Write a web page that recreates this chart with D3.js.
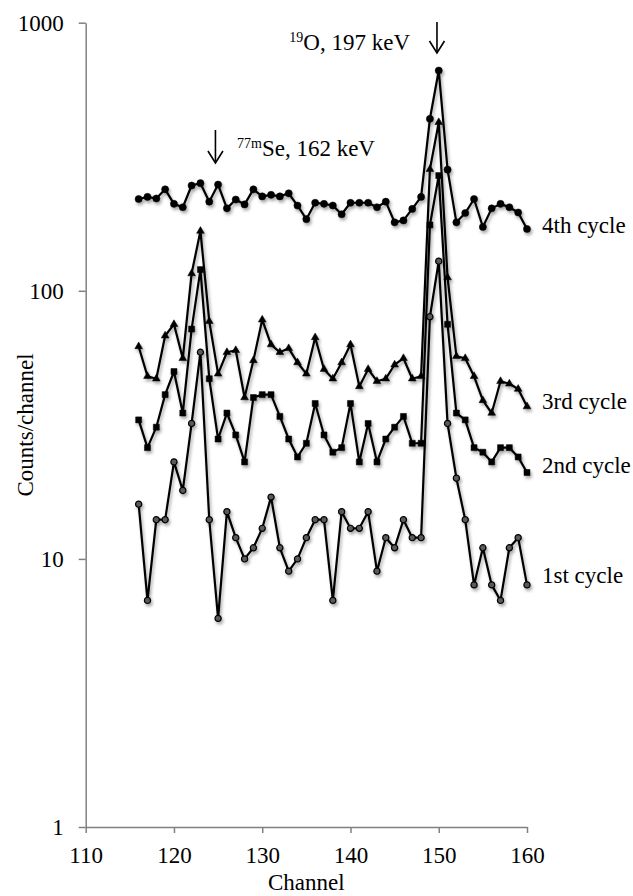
<!DOCTYPE html>
<html>
<head>
<meta charset="utf-8">
<script src="https://cdn.jsdelivr.net/npm/d3@7"></script>
<style>
  body { margin: 0; background: #fff; }
  svg { display: block; font-family: "Liberation Serif", "Times New Roman", serif; }
</style>
</head>
<body>
<svg></svg>
<script>
// gamma spectrum counts per channel, four counting cycles
const channels = d3.range(116, 161);

const cycle4 = [220, 224, 221, 239, 211, 205, 247, 252, 215, 249, 203, 219, 210, 239, 225,
  228, 225, 231, 208, 185, 213, 211, 208, 193, 213, 213, 213, 205, 215, 180,
  183, 202, 224, 438, 663, 283, 180, 195, 220, 173, 203, 211, 205, 196, 170];
const cycle3 = [62, 48, 47, 68, 75, 56, 116, 167, 77, 49, 59, 60, 40, 55, 78,
  63, 59, 61, 54, 49, 67, 51, 47, 54, 63, 44, 51, 46, 47, 53,
  56, 47, 48, 284, 425, 112, 57, 56, 48, 39, 35, 46, 45, 43, 37];
const cycle2 = [33, 26, 31, 41, 50, 35, 72, 120, 47, 28, 35, 29, 23, 40, 41,
  41, 34, 28, 24, 27, 38, 29, 25, 26, 38, 23, 32, 23, 28, 31,
  34, 27, 27, 176, 269, 75, 35, 33, 26, 25, 23, 26, 26, 24, 21];
const cycle1 = [16, 7, 14, 14, 23, 18, 32, 59, 14, 6, 15, 12, 10, 11, 13,
  17, 11, 9, 10, 12, 14, 14, 7, 15, 13, 13, 15, 9, 12, 11,
  14, 12, 12, 80, 129, 32, 20, 14, 8, 11, 8, 7, 11, 12, 8];

const seriesNames = ["4th cycle", "3rd cycle", "2nd cycle", "1st cycle"];
const xTicks = [110, 120, 130, 140, 150, 160];
const yTicks = [1, 10, 100, 1000];

const width = 633, height = 896;
const fontSize = "23px";
const svg = d3.select("svg").attr("width", width).attr("height", height);

const x = d3.scaleLinear().domain([110, 160]).range([85.7, 527]);
const y = d3.scaleLog().domain([1, 1000]).range([827, 22.7]);

// soft shadow under the data lines
const filter = svg.append("defs").append("filter")
  .attr("id", "shadow")
  .attr("x", "-10%").attr("y", "-10%")
  .attr("width", "120%").attr("height", "120%");
filter.append("feDropShadow")
  .attr("dx", 1.5).attr("dy", 2.5)
  .attr("stdDeviation", 1.4)
  .attr("flood-color", "#000")
  .attr("flood-opacity", 0.35);

// axes
const yAxis = svg.append("g")
  .attr("transform", `translate(${x(110)},0)`)
  .call(d3.axisLeft(y).tickValues(yTicks).tickFormat(d3.format("d"))
    .tickSize(7).tickSizeOuter(0).tickPadding(15));

const xAxis = svg.append("g")
  .attr("transform", `translate(0,${y(1)})`)
  .call(d3.axisBottom(x).tickValues(xTicks)
    .tickSize(6).tickSizeOuter(0).tickPadding(14));

[xAxis, yAxis].forEach(a => {
  a.select(".domain").attr("stroke", "#808080").attr("stroke-width", 1.5);
  a.selectAll(".tick line").attr("stroke", "#808080").attr("stroke-width", 1.5);
  a.selectAll(".tick text")
    .attr("fill", "#000")
    .style("font-family", "Liberation Serif, serif")
    .style("font-size", fontSize);
});

// axis titles
svg.append("text")
  .attr("x", (x(110) + x(160)) / 2)
  .attr("y", 890)
  .attr("text-anchor", "middle")
  .style("font-size", fontSize)
  .text("Channel");

svg.append("text")
  .attr("transform", "translate(33,425) rotate(-90)")
  .attr("text-anchor", "middle")
  .style("font-size", fontSize)
  .text("Counts/channel");

// data lines and markers
const series = [cycle4, cycle3, cycle2, cycle1];
const line = d3.line()
  .x((d, i) => x(channels[i]))
  .y(d => y(d));

const plot = svg.append("g").attr("filter", "url(#shadow)");

series.forEach(vals => {
  plot.append("path")
    .datum(vals)
    .attr("d", line)
    .attr("fill", "none")
    .attr("stroke", "#000")
    .attr("stroke-width", 2.2)
    .attr("stroke-linejoin", "round");
});

const symbols = [
  d3.symbol().type(d3.symbolCircle).size(40),
  d3.symbol().type(d3.symbolTriangle).size(26),
  d3.symbol().type(d3.symbolSquare).size(36),
  d3.symbol().type(d3.symbolCircle).size(30)
];

series.forEach((vals, k) => {
  plot.append("g")
    .selectAll("path")
    .data(vals)
    .enter().append("path")
    .attr("transform", (d, i) => `translate(${x(channels[i])},${y(d)})`)
    .attr("d", symbols[k])
    .attr("fill", k === 3 ? "#5a5a5a" : "#000")
    .attr("stroke", "#000")
    .attr("stroke-width", k === 3 ? 1.2 : 0.5);
});

// series labels at the right end
const labelY = [233, 409, 473, 583];
seriesNames.forEach((name, k) => {
  svg.append("text")
    .attr("x", 542)
    .attr("y", labelY[k])
    .style("font-size", fontSize)
    .text(name);
});

// peak annotations
function arrow(cx, top, bottom) {
  const g = svg.append("g")
    .attr("fill", "none")
    .attr("stroke", "#000")
    .attr("stroke-width", 1.6);
  g.append("line").attr("x1", cx).attr("x2", cx).attr("y1", top).attr("y2", bottom);
  g.append("path")
    .attr("d", `M${cx - 7.5},${bottom - 12} L${cx},${bottom} L${cx + 7.5},${bottom - 12}`);
}

arrow(x(149.8), 22, 53);
arrow(x(124.7), 130, 163);

const o19 = svg.append("text")
  .attr("x", 410)
  .attr("y", 50)
  .attr("text-anchor", "end")
  .style("font-size", fontSize);
o19.append("tspan").attr("dy", -8).style("font-size", "14px").text("19");
o19.append("tspan").attr("dy", 8).text("O, 197 keV");

const se77 = svg.append("text")
  .attr("x", 237)
  .attr("y", 156)
  .style("font-size", fontSize);
se77.append("tspan").attr("dy", -8).style("font-size", "14px").text("77m");
se77.append("tspan").attr("dy", 8).text("Se, 162 keV");
</script>
</body>
</html>
